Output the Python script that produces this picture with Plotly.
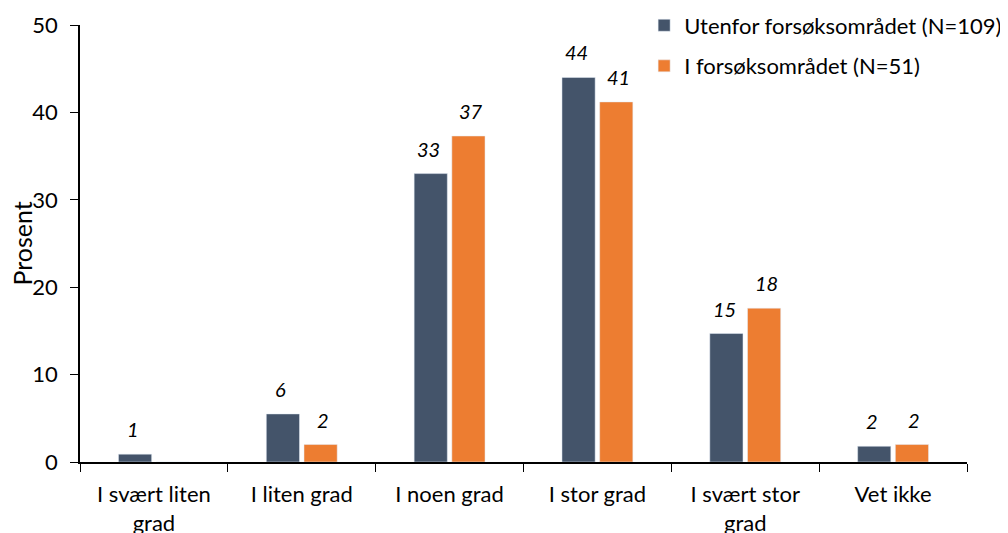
import plotly.graph_objects as go

categories = ["I svært liten<br>grad", "I liten grad", "I noen grad", "I stor grad", "I svært stor<br>grad", "Vet ikke"]
utenfor = [0.9, 5.5, 33.0, 44.0, 14.7, 1.8]
i_fors = [0.0, 2.0, 37.3, 41.2, 17.6, 2.0]
utenfor_labels = ["1", "6", "33", "44", "15", "2"]
i_fors_labels = ["", "2", "37", "41", "18", "2"]
series_names = ["Utenfor forsøksområdet (N=109)", "I forsøksområdet (N=51)"]
colors = ["#44546A", "#ED7D31"]

FONT = "Lato"

fig = go.Figure()
fig.add_trace(go.Bar(x=categories, y=utenfor, name=series_names[0], marker_color=colors[0],
                     legendgroup="a"))
fig.add_trace(go.Bar(x=categories, y=i_fors, name=series_names[1], marker_color=colors[1],
                     legendgroup="b"))

annotations = []
for vals, labels, shift in ((utenfor, utenfor_labels, -21), (i_fors, i_fors_labels, 21)):
    for c, v, t in zip(categories, vals, labels):
        if t:
            annotations.append(dict(x=c, y=v, text=t, showarrow=False, xshift=shift,
                                    yanchor="bottom", yshift=11,
                                    font=dict(family=FONT, size=20, color="#000000", style="italic")))
annotations.append(dict(x=-0.0654, y=0.5, xref="paper", yref="paper", text="Prosent",
                        textangle=-90, showarrow=False, xanchor="center", yanchor="middle",
                        font=dict(family=FONT, size=25, color="#000000")))

fig.update_layout(
    width=1008, height=533,
    margin=dict(l=72, r=49, t=17, b=79, autoexpand=False),
    plot_bgcolor="white", paper_bgcolor="white",
    barmode="group", bargap=0.49, bargroupgap=0.12,
    font=dict(family=FONT, size=22, color="#000000"),
    annotations=annotations,
    legend=dict(x=0.636, y=1.047, xanchor="left", yanchor="top",
                font=dict(family=FONT, size=22, color="#000000"),
                tracegroupgap=9, bgcolor="rgba(0,0,0,0)"),
    xaxis=dict(showline=True, linecolor="#000000", linewidth=1.5, automargin=False,
               ticks="outside", tickson="boundaries", ticklen=8, tickcolor="#000000",
               ticklabelstandoff=12,
               tickfont=dict(family=FONT, size=22), showgrid=False),
    yaxis=dict(range=[0, 50], dtick=10, showline=True, linecolor="#000000", linewidth=1.5,
               automargin=False,
               ticks="outside", ticklen=8, tickcolor="#000000", showgrid=False, zeroline=False,
               ticklabelstandoff=8,
               tickfont=dict(family=FONT, size=22)),
)

fig.write_html("out.html")
